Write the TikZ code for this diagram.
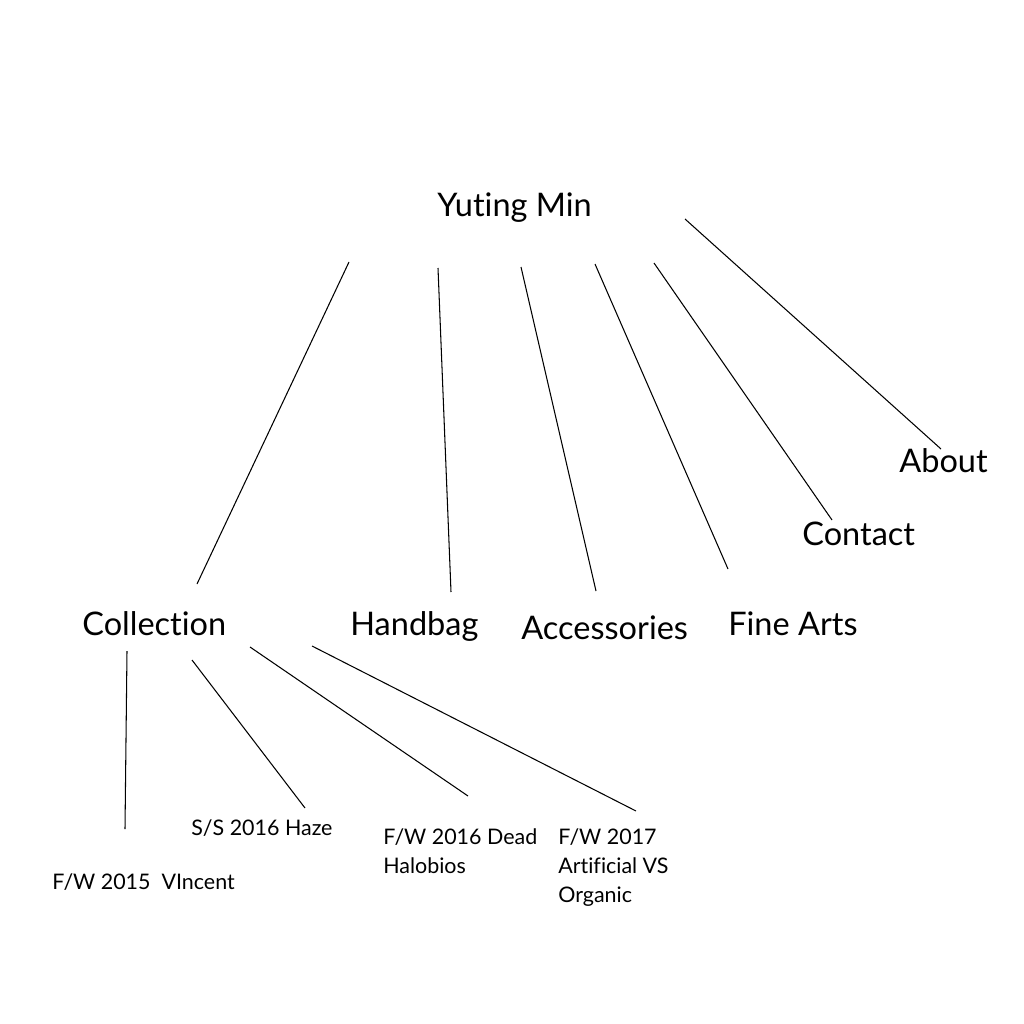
\documentclass[tikz,border=0pt]{standalone}
\usepackage{fontspec}
\setmainfont{Lato}[Ligatures=NoCommon]
\begin{document}
\begin{tikzpicture}[x=0.02cm,y=-0.02cm,
  big/.style={font=\fontsize{18.5}{22}\selectfont, inner sep=0pt, anchor=base west},
  small/.style={font=\fontsize{12.2}{16.4}\selectfont, inner sep=0pt, anchor=base west, align=left},
  link/.style={line width=0.6pt, black}]
\useasboundingbox[fill=white] (0,0) rectangle (1024,1024);
\node[big] (root) at (437,216) {Yuting Min};
\node[big] (coll) at (82,635) {Collection};
\node[big] (hand) at (350,635) {Handbag};
\node[big] (acc) at (521,639) {Accessories};
\node[big] (fine) at (728,635) {Fine Arts};
\node[big] (cont) at (802,545) {Contact};
\node[big] (about) at (899,472) {About};
\node[small] (c1) at (52,889) {F/W 2015\ \ VIncent};
\node[small] (c2) at (191,835) {S/S 2016 Haze};
\node[small] (c3) at (383,873) {F/W 2016 Dead\\Halobios};
\node[small] (c4) at (558,902) {F/W 2017\\Artificial VS\\Organic};
\coordinate (r1) at (349,262); \coordinate (e1) at (197,584);
\coordinate (r2) at (438,268); \coordinate (e2) at (451,592);
\coordinate (r3) at (521,267); \coordinate (e3) at (596,591);
\coordinate (r4) at (595,264); \coordinate (e4) at (728,569);
\coordinate (r5) at (654,263); \coordinate (e5) at (832,520);
\coordinate (r6) at (685,219); \coordinate (e6) at (941,449);
\coordinate (s1) at (127,651); \coordinate (f1) at (125,829);
\coordinate (s2) at (192,660); \coordinate (f2) at (305,808);
\coordinate (s3) at (250,647); \coordinate (f3) at (468,796);
\coordinate (s4) at (312,646); \coordinate (f4) at (636,811);
\foreach \a/\b in {r1/e1,r2/e2,r3/e3,r4/e4,r5/e5,r6/e6,s1/f1,s2/f2,s3/f3,s4/f4}
  \draw[link] (\a) -- (\b);
\end{tikzpicture}
\end{document}
